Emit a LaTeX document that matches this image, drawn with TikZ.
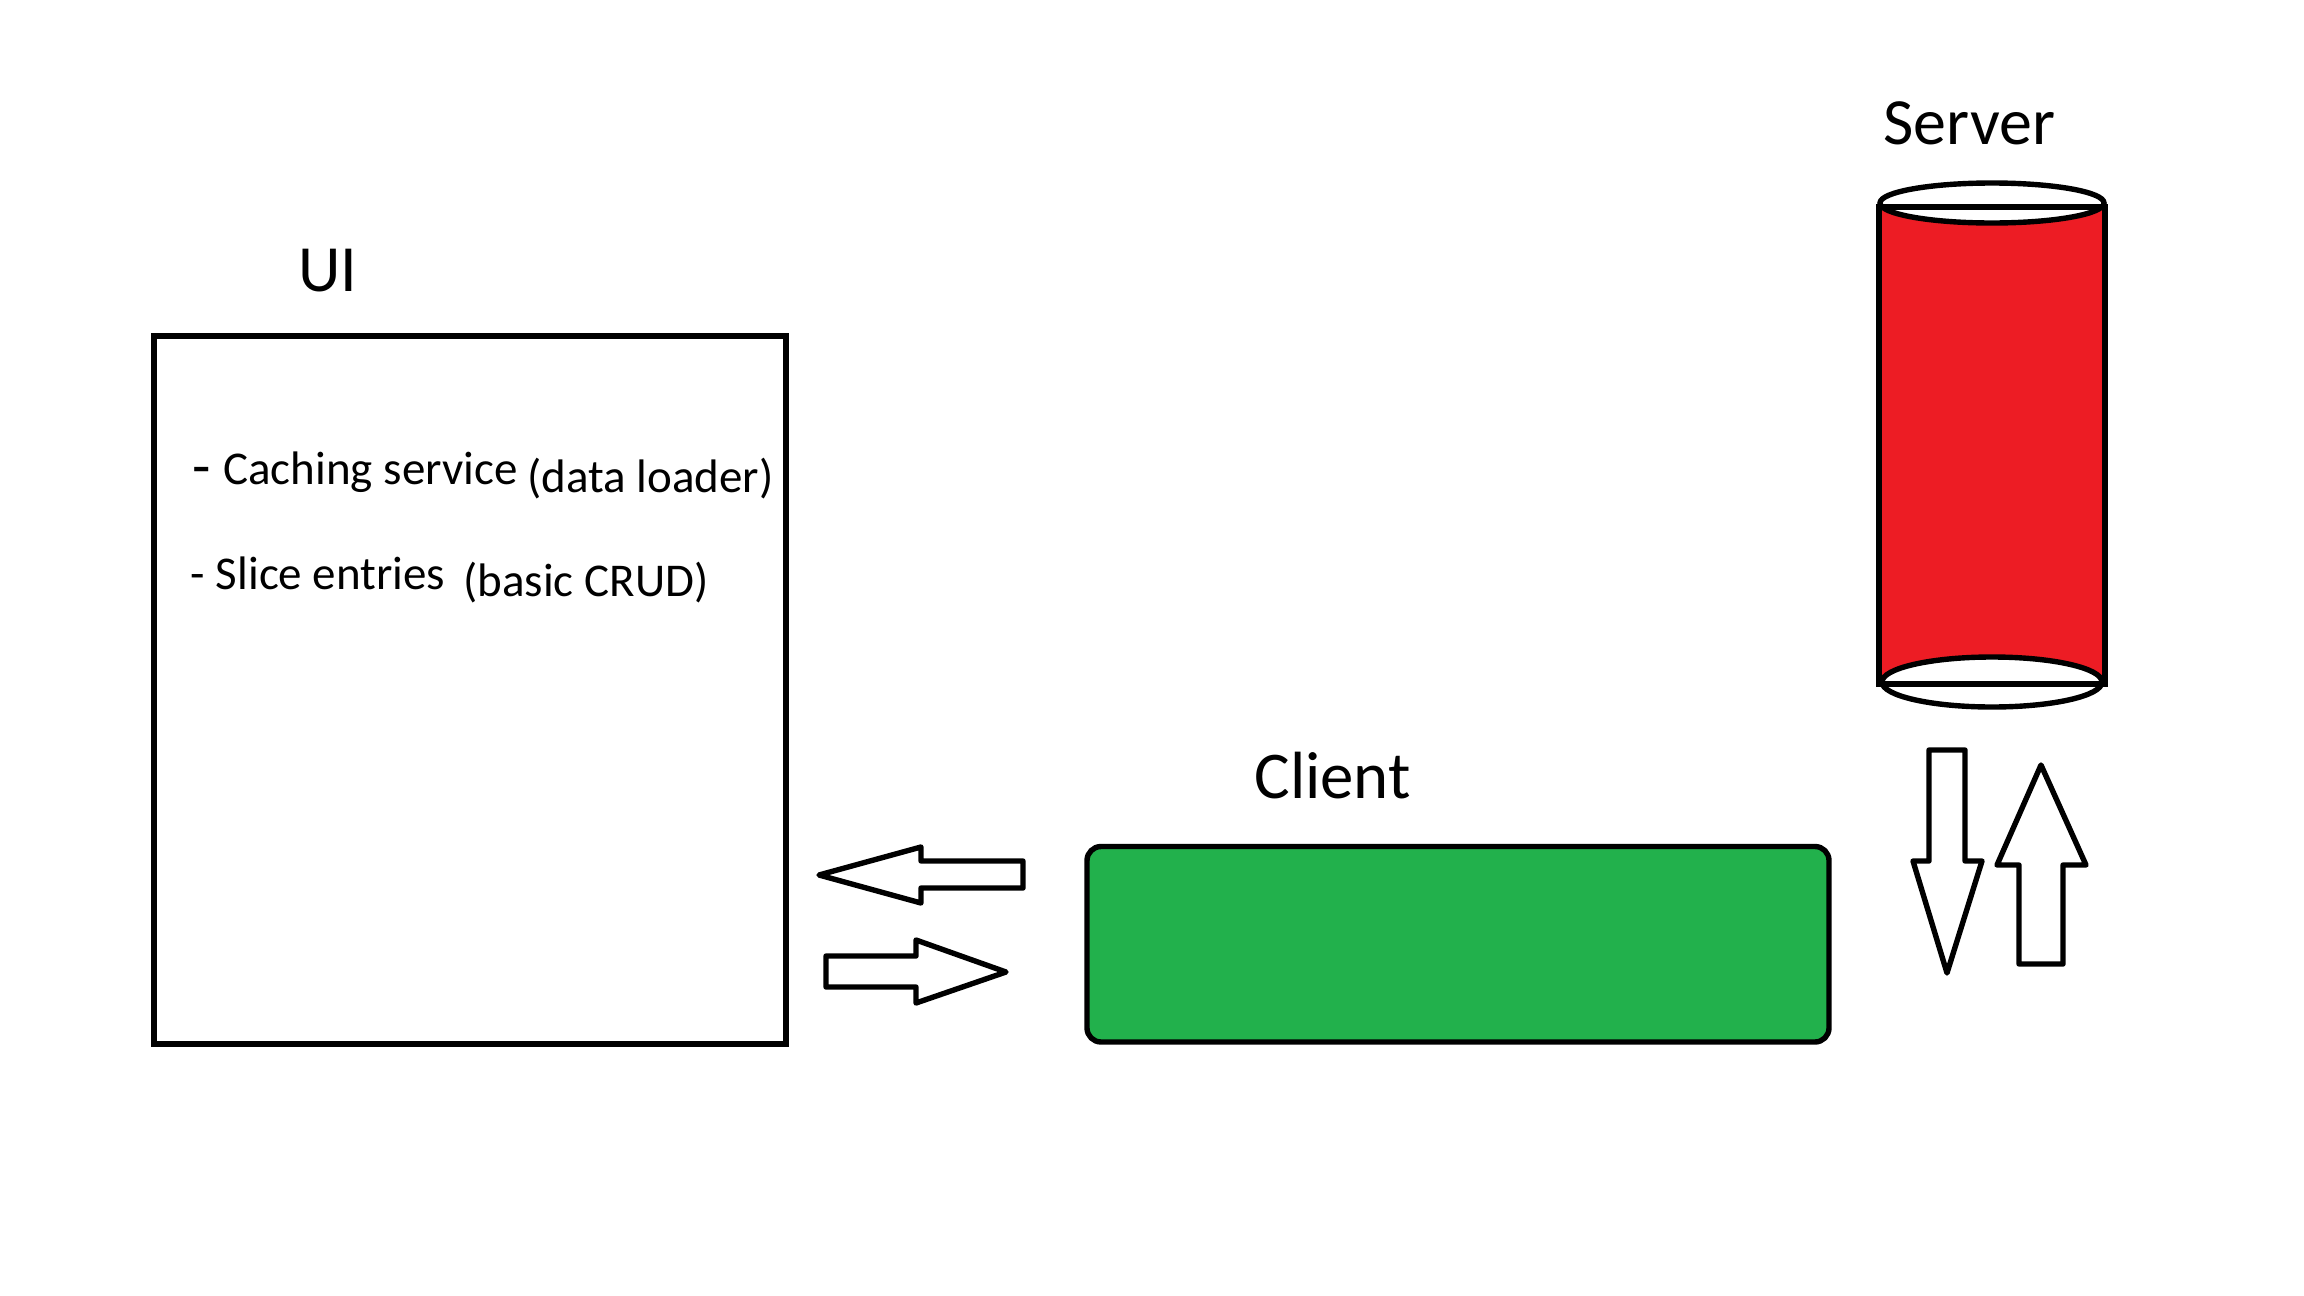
\documentclass[tikz,border=0pt]{standalone}
\usepackage{fontspec}
\setmainfont{Carlito}
\definecolor{srvred}{HTML}{ED1C24}
\definecolor{cligreen}{HTML}{22B14C}
\tikzset{
  x=0.5pt,y=-0.5pt,
  outline/.style={draw=black,line width=2.7pt},
  blockarrow/.style={outline,fill=white,line join=round},
  title/.style={anchor=base west,inner sep=0pt,font=\fontsize{33}{36}\selectfont},
  entry/.style={anchor=base west,inner sep=0pt,font=\fontsize{23.5}{26}\selectfont},
}
\begin{document}
\begin{tikzpicture}
\useasboundingbox (0,0) rectangle (2304,1296);
% UI
\node[title] (uititle) at (298,291) {UI};
\draw[outline,line join=miter] (154,336) rectangle (786,1044);
\node[entry] (dash1) at (192,486) {\fontsize{30}{30}\selectfont -};
\node[entry] (cache) at (223,484.5) {Caching service};
\node[entry] (loader) at (527,492.5) {(data loader)};
\node[entry] (slice) at (190.5,589.5) {- Slice entries};
\node[entry] (crud) at (463,596.5) {(basic CRUD)};
% Client
\node[title,font=\fontsize{33.4}{36}\selectfont] (clienttitle) at (1254,798) {Client};
\draw[outline,fill=cligreen,rounded corners=7pt] (1087,846.5) rectangle (1829,1042);
% Server
\node[title] (servertitle) at (1883,144) {Server};
\fill[srvred] (1879,207) rectangle (2105,684);
\draw[outline,fill=white] (1992,203) ellipse [x radius=112,y radius=20];
\draw[outline,fill=white] (1992,682) ellipse [x radius=110,y radius=25];
\draw[outline,line join=miter] (1879,207) rectangle (2105,684);
% Block arrows
\draw[blockarrow] (1929,750) -- (1965,750) -- (1965,861) -- (1982,861) -- (1947,973) -- (1913,861) -- (1929,861) -- cycle;
\draw[blockarrow] (2041,765) -- (2086,865) -- (2063,865) -- (2063,964) -- (2019,964) -- (2019,865) -- (1997,865) -- cycle;
\draw[blockarrow] (819,875) -- (921,847) -- (921,861) -- (1023,861) -- (1023,888) -- (921,888) -- (921,903) -- cycle;
\draw[blockarrow] (826,956) -- (916,956) -- (916,940) -- (1006,972) -- (916,1003) -- (916,987) -- (826,987) -- cycle;
\end{tikzpicture}
\end{document}
